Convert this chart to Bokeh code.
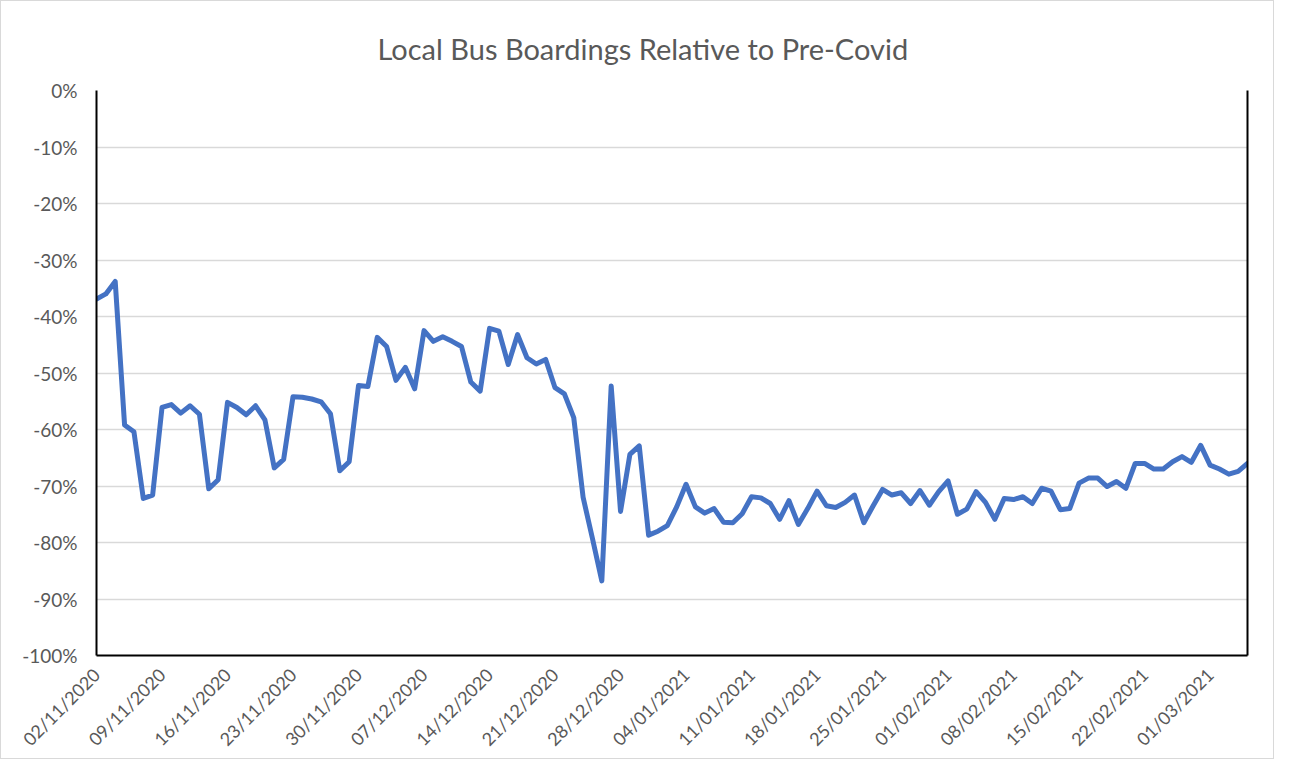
import math
import pandas as pd
from bokeh.plotting import figure
from bokeh.models import (Range1d, FixedTicker, DatetimeTickFormatter, PrintfTickFormatter,
                          LinearAxis, ColumnDataSource)
from bokeh.embed import file_html
from bokeh.resources import INLINE

# ---- data ----
start_date = "2020-11-02"
boardings_pct = [
    -36.9, -36.0, -33.8, -59.2, -60.4, -72.2, -71.6,
    -56.1, -55.6, -57.1, -55.8, -57.3, -70.5, -68.9,
    -55.2, -56.1, -57.4, -55.8, -58.3, -66.8, -65.3,
    -54.2, -54.3, -54.6, -55.1, -57.2, -67.3, -65.7,
    -52.2, -52.4, -43.7, -45.3, -51.3, -49.0, -52.8,
    -42.5, -44.4, -43.6, -44.4, -45.3, -51.6, -53.2,
    -42.1, -42.6, -48.5, -43.2, -47.3, -48.4, -47.6,
    -52.6, -53.7, -57.9, -72.0, -79.3, -86.8, -52.3,
    -74.5, -64.4, -62.9, -78.7, -78.0, -77.0, -73.7,
    -69.7, -73.7, -74.8, -74.0, -76.4, -76.5, -74.9,
    -71.9, -72.1, -73.1, -75.9, -72.6, -76.8, -74.0,
    -70.9, -73.5, -73.8, -72.9, -71.6, -76.5, -73.5,
    -70.6, -71.6, -71.2, -73.1, -70.8, -73.4, -71.0,
    -69.1, -75.0, -74.1, -71.0, -72.9, -75.9, -72.2,
    -72.4, -71.9, -73.1, -70.4, -70.9, -74.2, -74.0,
    -69.5, -68.6, -68.6, -70.1, -69.2, -70.4, -66.0,
    -66.0, -67.0, -67.0, -65.7, -64.8, -65.8, -62.8,
    -66.3, -67.0, -67.9, -67.4, -66.0,
]
y_ticks = [0, -10, -20, -30, -40, -50, -60, -70, -80, -90, -100]
tick_every_days = 7
title_text = "Local Bus Boardings Relative to Pre-Covid"

dates = pd.date_range(start_date, periods=len(boardings_pct), freq="D")
source = ColumnDataSource(data=dict(date=dates, value=boardings_pct))

FONT = "Lato"
TEXT_GREY = "#595959"

p = figure(width=1274, height=759, output_backend="svg", toolbar_location=None,
           x_axis_type="datetime",
           x_range=Range1d(dates[0], dates[-1]), y_range=Range1d(-100, 0),
           min_border_left=95, min_border_right=28, min_border_top=89, min_border_bottom=100,
           background_fill_color="white", border_fill_color="white",
           outline_line_color=None)

p.title.text = title_text
p.title.align = "left"
p.title.text_font = FONT
p.title.text_font_size = "29px"
p.title.text_font_style = "normal"
p.title.text_color = TEXT_GREY
p.title.offset = 281
p.title.standoff = 50

p.line("date", "value", source=source, line_color="#4472C4", line_width=5,
       line_join="round", line_cap="round")

# x axis
tick_ms = [int(d.value // 10**6) for d in dates[::tick_every_days]]
p.xaxis.ticker = FixedTicker(ticks=tick_ms)
fmt = "%d/%m/%Y"
p.xaxis.formatter = DatetimeTickFormatter(days=fmt, months=fmt, years=fmt, hours=fmt,
                                          hourmin=fmt, minutes=fmt, seconds=fmt,
                                          milliseconds=fmt, minsec=fmt)
p.xaxis.major_label_orientation = math.pi / 4
p.xaxis.major_label_text_font = FONT
p.xaxis.major_label_text_font_size = "18px"
p.xaxis.major_label_text_color = TEXT_GREY
p.xaxis.major_label_standoff = 10
p.xaxis.axis_line_color = "black"
p.xaxis.axis_line_width = 2
p.xaxis.major_tick_line_color = None
p.xaxis.minor_tick_line_color = None

# y axis
p.yaxis.ticker = FixedTicker(ticks=y_ticks)
p.yaxis.formatter = PrintfTickFormatter(format="%d%%")
p.yaxis.major_label_text_font = FONT
p.yaxis.major_label_text_font_size = "19px"
p.yaxis.major_label_text_color = TEXT_GREY
p.yaxis.major_label_standoff = 13
p.yaxis.axis_line_color = "black"
p.yaxis.axis_line_width = 2
p.yaxis.major_tick_line_color = None
p.yaxis.minor_tick_line_color = None

# right edge line
right_axis = LinearAxis(ticker=FixedTicker(ticks=[]), axis_line_color="black", axis_line_width=2,
                        major_tick_line_color=None, minor_tick_line_color=None,
                        major_label_text_font_size="0px")
p.add_layout(right_axis, "right")

p.xgrid.grid_line_color = None
p.ygrid.ticker = FixedTicker(ticks=y_ticks)
p.ygrid.grid_line_color = "#d9d9d9"
p.ygrid.grid_line_width = 1.5

p.styles = {"border": "1px solid #d9d9d9"}

open("out.html", "w").write(file_html(p, INLINE))
